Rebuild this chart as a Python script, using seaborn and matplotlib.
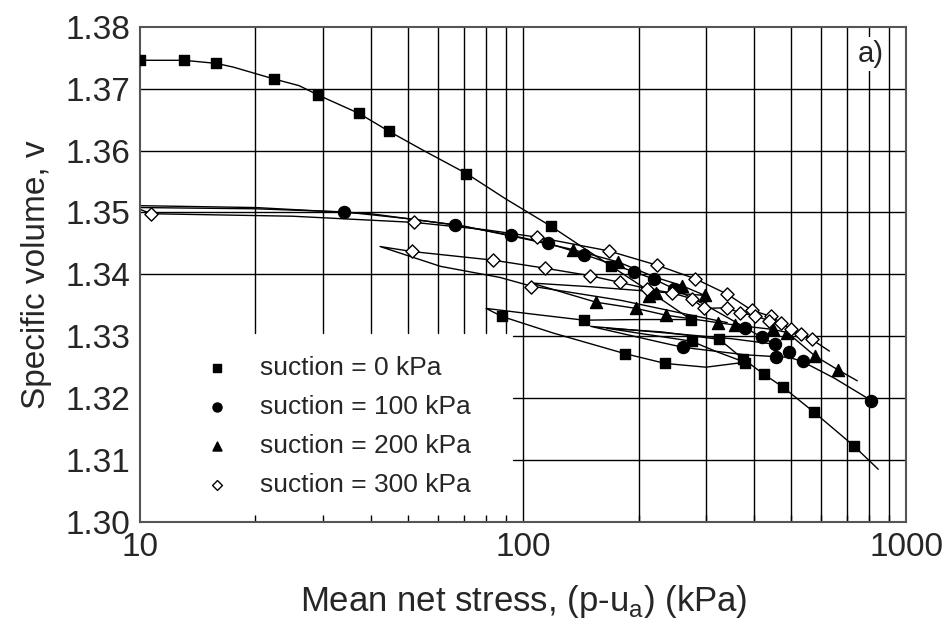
import numpy as np
import pandas as pd
import seaborn as sns
import matplotlib.pyplot as plt
import matplotlib.ticker as ticker

# suction = 0 kPa
s0_line_x = [10, 13, 15.8, 17.5, 22.3, 26, 29.1, 37.3, 44.7, 55, 71.1, 90, 118, 170, 218, 274,
             200, 144, 105, 80, 88, 120, 184, 235, 300, 379, 320, 275, 210, 165, 230, 325,
             374, 424, 476, 575, 729, 845]
s0_line_y = [1.3746, 1.3746, 1.3741, 1.3735, 1.3716, 1.3705, 1.3690, 1.3660, 1.3631, 1.3600,
             1.3563, 1.3522, 1.3478, 1.3413, 1.3369, 1.3327, 1.3327, 1.3326, 1.3336, 1.3345,
             1.3332, 1.3305, 1.3272, 1.3256, 1.3250, 1.3258, 1.3275, 1.3292, 1.3303, 1.3313,
             1.3307, 1.3295, 1.3264, 1.3239, 1.3218, 1.3177, 1.3123, 1.3085]
s0_pts_x = [10, 13, 15.8, 22.3, 29.1, 37.3, 44.7, 71.1, 118, 170, 218, 274, 144, 88, 184, 235,
            275, 325, 374, 379, 424, 476, 575, 729]
s0_pts_y = [1.3746, 1.3746, 1.3741, 1.3716, 1.3690, 1.3660, 1.3631, 1.3563, 1.3478, 1.3413,
            1.3369, 1.3327, 1.3326, 1.3332, 1.3272, 1.3256, 1.3292, 1.3295, 1.3264, 1.3257,
            1.3239, 1.3218, 1.3177, 1.3123]

# suction = 100 kPa
s100_line_x = [10, 20, 34.1, 50, 66.4, 93.1, 116.4, 144.5, 195, 220, 247, 300, 380, 420, 455,
               350, 250, 150, 229, 262, 380, 457, 495, 536, 650, 811]
s100_line_y = [1.3508, 1.3506, 1.3501, 1.3490, 1.3480, 1.3463, 1.3450, 1.3432, 1.3404, 1.3392,
               1.3377, 1.3350, 1.3314, 1.3298, 1.3287, 1.3296, 1.3304, 1.3316, 1.3290, 1.3282,
               1.3270, 1.3267, 1.3266, 1.3259, 1.3232, 1.3196]
s100_pts_x = [34.1, 66.4, 93.1, 116.4, 144.5, 195, 220, 247, 380, 420, 455, 262, 457, 495, 536, 811]
s100_pts_y = [1.3501, 1.3480, 1.3463, 1.3450, 1.3432, 1.3404, 1.3392, 1.3377, 1.3314, 1.3298,
              1.3287, 1.3282, 1.3267, 1.3275, 1.3260, 1.3196]

# suction = 200 kPa
s200_line_x = [10, 20, 40, 70, 100, 135, 177, 222, 259, 298, 220, 150, 105, 155, 197, 236, 322,
               358, 449, 489, 578, 662, 745]
s200_line_y = [1.3511, 1.3508, 1.3498, 1.3478, 1.3458, 1.3440, 1.3420, 1.3395, 1.3382, 1.3366,
               1.3372, 1.3380, 1.3386, 1.3355, 1.3345, 1.3334, 1.3322, 1.3318, 1.3311, 1.3306,
               1.3268, 1.3246, 1.3228]
s200_pts_x = [135, 177, 213, 222, 259, 298, 155, 197, 236, 322, 358, 449, 489, 578, 662]
s200_pts_y = [1.3440, 1.3420, 1.3365, 1.3370, 1.3382, 1.3366, 1.3355, 1.3345, 1.3334, 1.3322,
              1.3318, 1.3311, 1.3306, 1.3268, 1.3246]

# suction = 300 kPa
s300_line_x = [10, 10.7, 25, 52, 80, 109, 167, 223, 281, 341, 395, 444, 501, 530, 566, 630]
s300_line_y = [1.3505, 1.3498, 1.3494, 1.3484, 1.3472, 1.3460, 1.3438, 1.3415, 1.3393, 1.3368,
               1.3342, 1.3332, 1.3311, 1.3303, 1.3295, 1.3276]
s300_loop_x = [341, 256, 180, 105, 87, 60.8, 42.3, 51.2, 83.4, 114, 149, 179, 210, 244, 275,
               297, 341, 367, 404, 439, 470]
s300_loop_y = [1.3322, 1.3338, 1.3358, 1.3381, 1.3395, 1.3413, 1.3445, 1.3437, 1.3423, 1.3410,
               1.3398, 1.3387, 1.3377, 1.3370, 1.3361, 1.3345, 1.3346, 1.3338, 1.3333, 1.3325,
               1.3321]
s300_pts_x = [10.7, 52, 51.2, 83.4, 108.9, 114, 105, 167, 149, 179, 223, 210, 244, 281, 275,
              297, 341, 341, 367, 395, 404, 444, 439, 470, 501, 530, 566]
s300_pts_y = [1.3498, 1.3484, 1.3437, 1.3423, 1.3460, 1.3410, 1.3380, 1.3438, 1.3398, 1.3387,
              1.3415, 1.3377, 1.3370, 1.3393, 1.3361, 1.3345, 1.3368, 1.3346, 1.3338, 1.3342,
              1.3333, 1.3332, 1.3325, 1.3321, 1.3311, 1.3303, 1.3295]

labels = ['suction = 0 kPa', 'suction = 100 kPa', 'suction = 200 kPa', 'suction = 300 kPa']

sns.set_style('white')
plt.rcParams['font.family'] = ['Liberation Sans', 'DejaVu Sans']

fig = plt.figure(figsize=(9.47, 6.25), dpi=100)
ax = fig.add_axes([0.148, 0.165, 0.809, 0.792])

ax.set_xscale('log')
ax.set_xlim(10, 1000)
ax.set_ylim(1.30, 1.38)

# grid, left out where the legend sits
for gx in list(range(20, 100, 10)):
    ax.axvline(gx, ymin=0.382, color='k', lw=1.0, zorder=0.5)
for gx in [100] + list(range(200, 1000, 100)):
    ax.axvline(gx, color='k', lw=1.0, zorder=0.5)
for gy in [1.31, 1.32, 1.33]:
    ax.axhline(gy, xmin=0.487, color='k', lw=1.0, zorder=0.5)
for gy in [1.34, 1.35, 1.36, 1.37]:
    ax.axhline(gy, color='k', lw=1.0, zorder=0.5)

lines = [(s0_line_x, s0_line_y), (s100_line_x, s100_line_y), (s200_line_x, s200_line_y),
         (s300_line_x, s300_line_y), (s300_loop_x, s300_loop_y)]
for lx, ly in lines:
    sns.lineplot(x=lx, y=ly, sort=False, estimator=None, color='k', lw=1.0, ax=ax, zorder=2)

pts = [(s0_pts_x, s0_pts_y, 's', 'k', 60),
       (s100_pts_x, s100_pts_y, 'o', 'k', 75),
       (s200_pts_x, s200_pts_y, '^', 'k', 75),
       (s300_pts_x, s300_pts_y, 'D', 'white', 45)]
for (px, py, m, fc, sz), lab in zip(pts, labels):
    df = pd.DataFrame({'p': px, 'v': py})
    sns.scatterplot(data=df, x='p', y='v', marker=m, s=sz, facecolor=fc, edgecolor='k',
                    linewidth=1.0, ax=ax, zorder=3, label=lab)

leg = ax.legend(loc='upper left', bbox_to_anchor=(0.052, 0.356), frameon=False, fontsize=19,
                markerscale=0.75, handlelength=2.0, handletextpad=0.63, labelspacing=0.56,
                borderaxespad=0)

ax.xaxis.set_major_formatter(ticker.FuncFormatter(lambda x, pos: f'{x:.0f}'))
ax.xaxis.set_minor_formatter(ticker.NullFormatter())
ax.yaxis.set_major_locator(ticker.MultipleLocator(0.01))
ax.yaxis.set_minor_locator(ticker.MultipleLocator(0.005))
ax.yaxis.set_major_formatter(ticker.FuncFormatter(lambda y, pos: f'{y:.2f}'))
ax.tick_params(which='both', direction='in', labelsize=24, color='k', width=1.0)
ax.tick_params(which='major', length=6, pad=7)
ax.tick_params(which='minor', length=5)
ax.tick_params(axis='x', which='minor', bottom=True)

for sp in ax.spines.values():
    sp.set_color('#555555')
    sp.set_linewidth(1.5)

ax.set_xlabel('Mean net stress, (p-u$_\\mathregular{a}$) (kPa)', fontsize=25, labelpad=15)
ax.set_ylabel('Specific volume, v', fontsize=24, labelpad=10)

ax.text(0.953, 0.945, 'a)', transform=ax.transAxes, fontsize=21, ha='center', va='center',
        bbox=dict(facecolor='white', edgecolor='none', pad=2), zorder=4)

fig.savefig('out.png', dpi=100)
